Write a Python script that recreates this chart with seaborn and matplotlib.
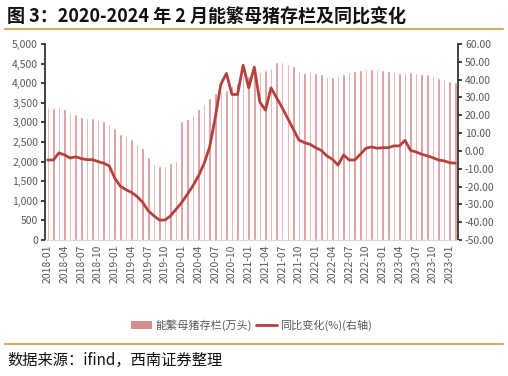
import matplotlib
matplotlib.use("Agg")
import matplotlib.pyplot as plt
import seaborn as sns
import pandas as pd
from matplotlib.ticker import FuncFormatter
from matplotlib.lines import Line2D
from matplotlib.patches import Patch

sns.set_style("white")
plt.rcParams['font.family'] = ['Noto Sans CJK SC', 'DejaVu Sans']
plt.rcParams['axes.unicode_minus'] = False

# 月份 2018-01 ~ 2024-02
months = pd.date_range("2018-01-01", "2024-02-01", freq="MS").strftime("%Y-%m").tolist()

# 能繁母猪存栏(万头)
sows = [3390, 3373, 3390, 3330, 3246, 3212, 3144, 3102, 3102, 3059, 3034, 2949,
        2847, 2695, 2653, 2568, 2458, 2339, 2127, 1932, 1890, 1890, 1958, 2017,
        3034, 3093, 3186, 3330, 3475, 3610, 3754, 3790, 3822, 3949, 4017, 4200,
        4195, 4250, 4305, 4347, 4390, 4542, 4534, 4492, 4432, 4322, 4263, 4305,
        4263, 4246, 4169, 4169, 4186, 4246, 4288, 4305, 4347, 4356, 4364, 4373,
        4347, 4322, 4288, 4271, 4263, 4280, 4254, 4237, 4237, 4195, 4136, 4119,
        4051, 4034]

# 同比变化(%)
yoy = [-5.1, -5.1, -1.1, -2.3, -4.0, -3.3, -4.3, -4.9, -4.9, -6.0, -6.9, -8.4,
       -15.3, -19.8, -21.8, -23.3, -25.6, -28.9, -33.6, -36.4, -38.8, -38.8, -36.4, -32.7,
       -28.9, -24.3, -19.6, -14.0, -7.1, 2.2, 18.6, 37.3, 43.5, 31.7, 31.7, 48.1,
       35.4, 47.0, 27.4, 22.9, 35.4, 29.8, 24.2, 18.2, 12.1, 6.1, 4.6, 3.7,
       1.8, 0.3, -2.8, -4.7, -8.0, -2.3, -5.1, -5.1, -1.9, 1.5, 2.2, 1.5,
       1.8, 1.8, 2.8, 2.8, 5.9, 0.3, -0.6, -1.9, -2.8, -3.8, -5.1, -5.6,
       -6.6, -6.9]

# 横轴标签(每三个月一个, 原图最后一个标签如此)
tick_labels = months[::3]
tick_labels[-1] = "2023-01"

bar_color = "#d88e8d"
line_color = "#b5403d"
gold = "#d6a862"
gray = "#595959"

df = pd.DataFrame({"month": months, "sows": sows, "yoy": yoy})
df["idx"] = range(len(df))

fig = plt.figure(figsize=(5.08, 3.76), dpi=100)
ax = fig.add_axes([0.0886, 0.3617, 0.8130, 0.5213])

sns.barplot(data=df, x="idx", y="sows", color=bar_color, width=0.46,
            saturation=1, ax=ax)
ax.set_ylim(0, 5000)
ax.set_yticks(range(0, 5001, 500))
ax.yaxis.set_major_formatter(FuncFormatter(lambda v, p: f"{v:,.0f}"))

ax2 = ax.twinx()
sns.lineplot(data=df, x="idx", y="yoy", color=line_color, linewidth=2.0, ax=ax2)
ax2.set_ylim(-50, 60)
ax2.set_yticks(range(-50, 61, 10))
ax2.yaxis.set_major_formatter(FuncFormatter(lambda v, p: f"{v:.2f}"))

ax.set_xlim(-0.5, len(months) - 0.5)
ax.set_xticks(list(range(0, len(months), 3)))
ax.set_xticklabels(tick_labels, rotation=90)
ax.set_xlabel("")
ax.set_ylabel("")
ax2.set_xlabel("")
ax2.set_ylabel("")

for a in (ax, ax2):
    a.tick_params(axis="y", labelsize=7.5, colors=gray, length=3, width=1.2, pad=2)
    a.grid(False)
    a.spines["top"].set_visible(False)
ax.tick_params(axis="y", color="#222222")
ax2.tick_params(axis="y", color="#222222")
ax.tick_params(axis="x", labelsize=7.5, colors=gray, length=0, pad=3)
ax2.tick_params(axis="x", length=0)
ax.spines["left"].set_color("#222222")
ax.spines["left"].set_linewidth(1.2)
ax2.spines["right"].set_color("#222222")
ax2.spines["right"].set_linewidth(1.2)
ax2.spines["left"].set_visible(False)
ax.spines["right"].set_visible(False)
for a in (ax, ax2):
    a.spines["bottom"].set_color("#d9d9d9")

handles = [Patch(facecolor=bar_color, edgecolor="none"),
           Line2D([0], [0], color=line_color, linewidth=2.0)]
fig.legend(handles, ["能繁母猪存栏(万头)", "同比变化(%)(右轴)"],
           loc="center", bbox_to_anchor=(0.495, 0.136), ncol=2, frameon=False,
           fontsize=8, labelcolor=gray, handlelength=1.9, handletextpad=0.3,
           columnspacing=0.4)

fig.text(0.014, 0.955, "图 3：2020-2024 年 2 月能繁母猪存栏及同比变化",
         fontsize=13, fontweight="bold", va="center", ha="left", color="#111111")
fig.add_artist(Line2D([0.01, 0.99], [0.922, 0.922], color=gold, linewidth=1.5))
fig.add_artist(Line2D([0.01, 0.99], [0.085, 0.085], color=gold, linewidth=1.5))
fig.text(0.014, 0.042, "数据来源：ifind，西南证券整理", fontsize=11,
         style="italic", va="center", ha="left", color="#111111")

fig.savefig("out.png", dpi=100)
